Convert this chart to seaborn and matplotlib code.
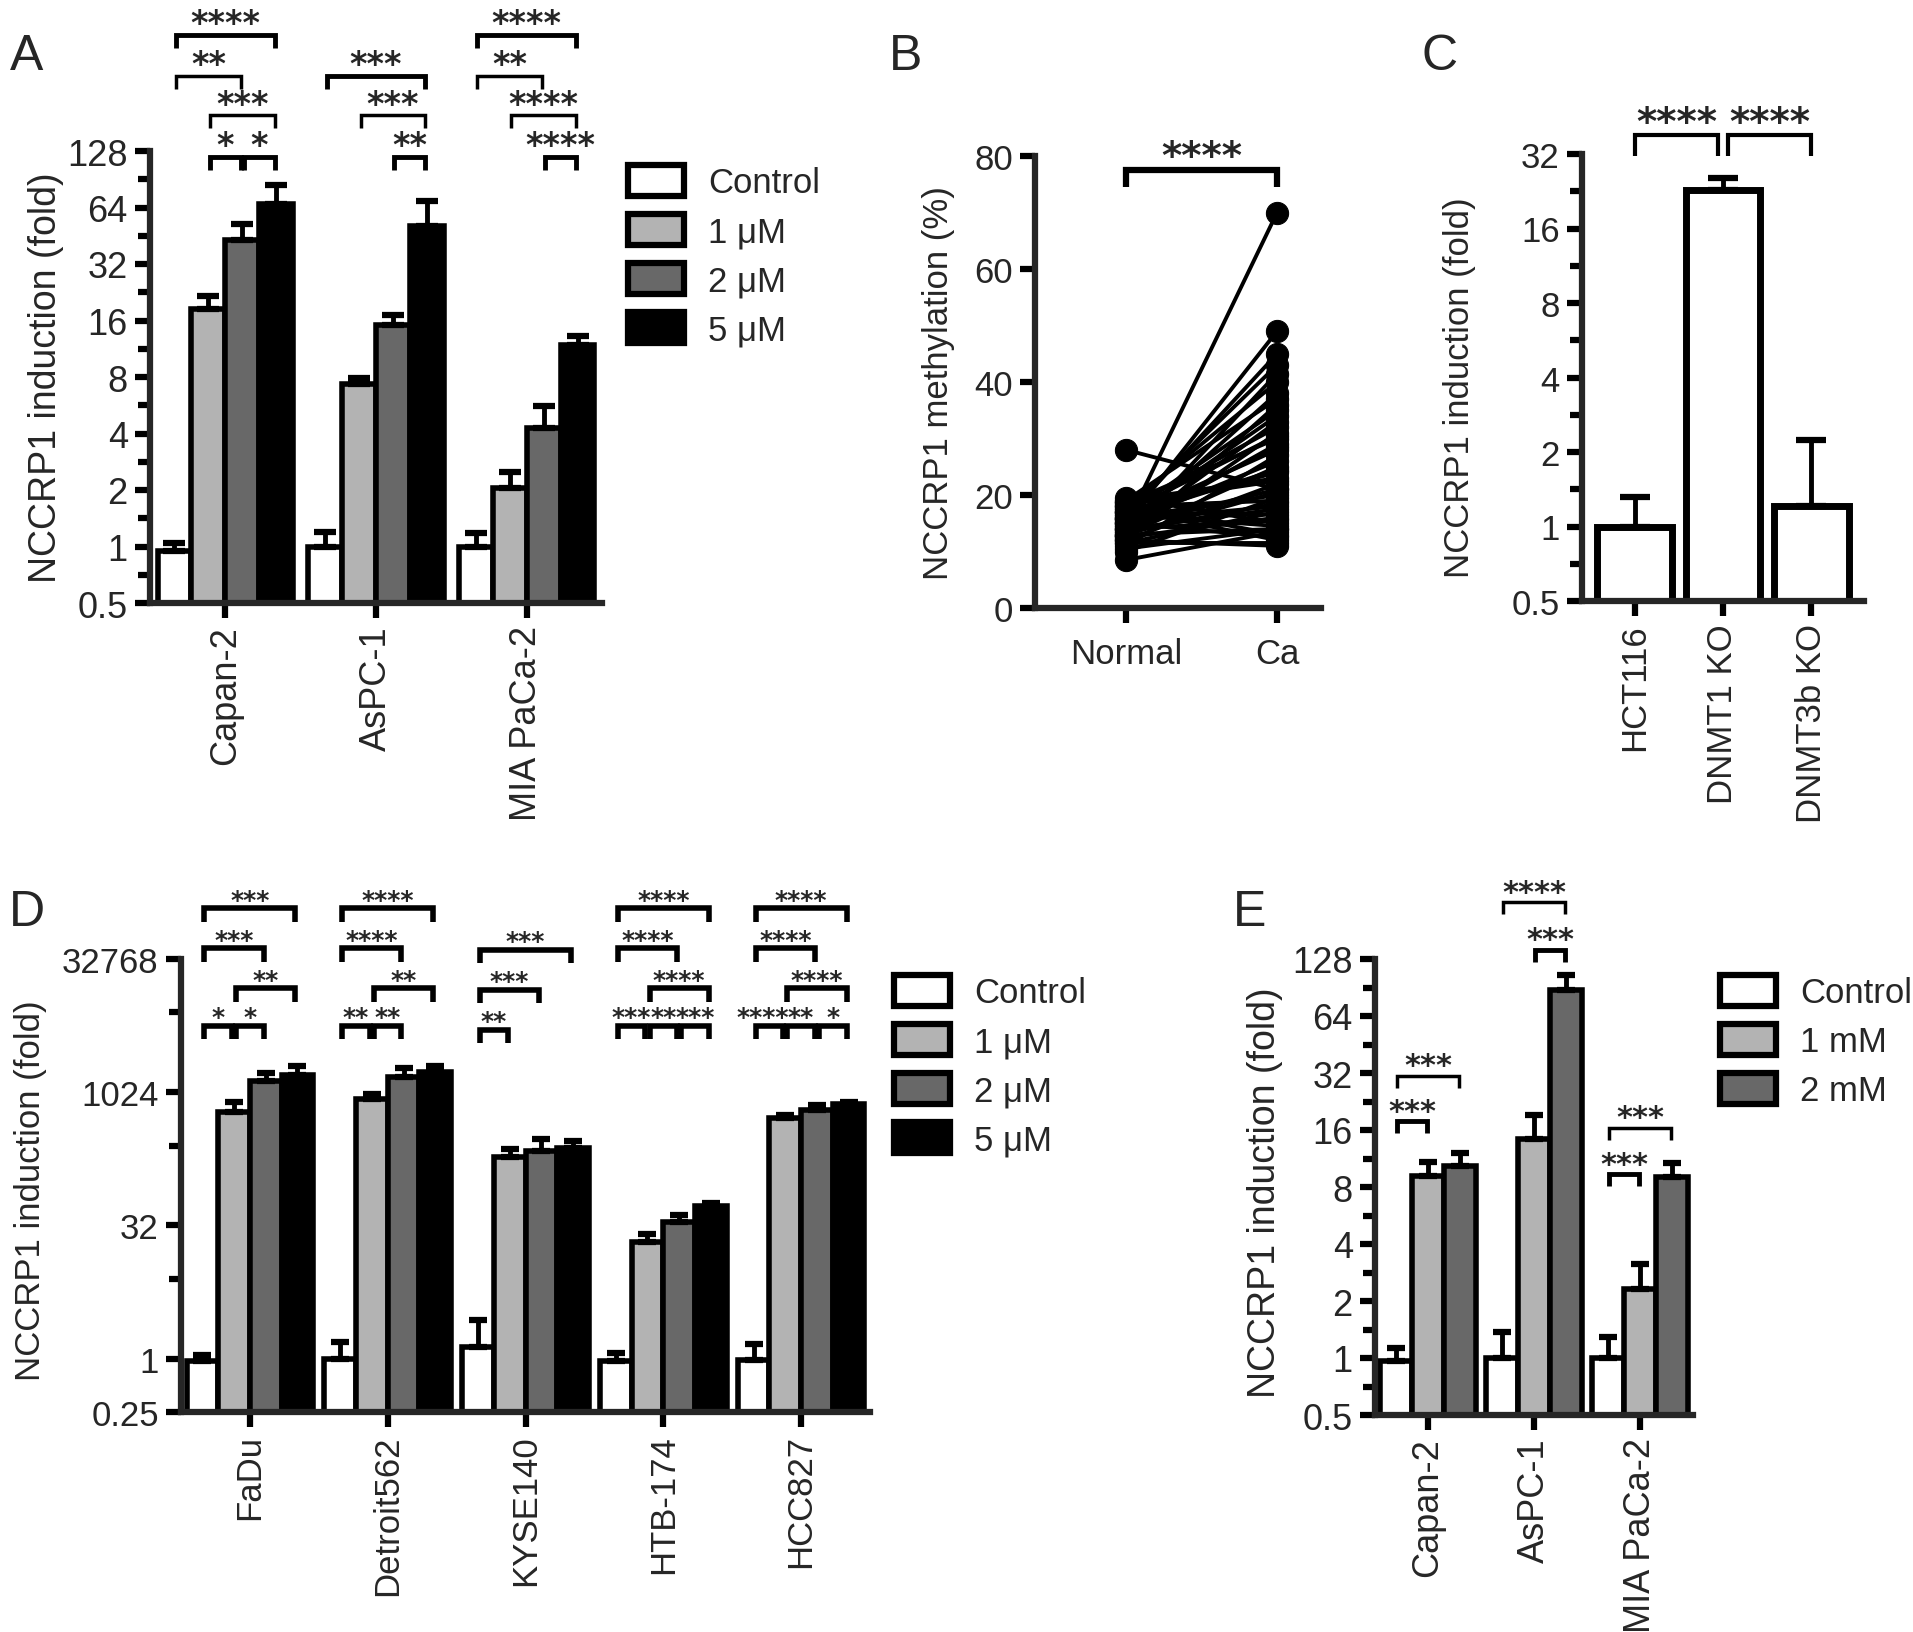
import numpy as np
import pandas as pd
import seaborn as sns
import matplotlib.pyplot as plt
from matplotlib.patches import Patch
from matplotlib.ticker import FixedLocator, FixedFormatter, NullFormatter
from matplotlib import font_manager

# ------------------------------
# Data
# ------------------------------
# A: decitabine dose response in pancreatic lines
a_lines = ['Capan-2', 'AsPC-1', 'MIA PaCa-2']
a_doses = ['Control', '1 \u03bcM', '2 \u03bcM', '5 \u03bcM']
a_mean = [[0.95, 18.5, 43.0, 67.0],
          [1.0, 7.3, 15.2, 51.0],
          [1.0, 2.05, 4.3, 11.8]]
a_upper = [[1.05, 21.7, 52.0, 84.0],
           [1.2, 7.9, 17.2, 69.0],
           [1.18, 2.5, 5.6, 13.2]]
# (group, bar i, bar j, label)
a_sig = [(0, 0, 3, '****'), (0, 0, 2, '**'), (0, 1, 3, '***'), (0, 1, 2, '*'), (0, 2, 3, '*'),
         (1, 0, 3, '***'), (1, 1, 3, '***'), (1, 2, 3, '**'),
         (2, 0, 3, '****'), (2, 0, 2, '**'), (2, 1, 3, '****'), (2, 2, 3, '****')]

# B: paired methylation, normal vs cancer
b_normal = [28, 14.5, 15, 16, 17, 13, 18, 14, 19, 12, 16.5, 15.5, 13.5, 17.5, 12.5, 18.5, 14,
            16, 11, 15, 13, 17, 19, 12, 14.5, 16, 10, 18, 13.5, 15.5, 11.5, 17, 12.5, 14,
            19.5, 16.5, 13, 8.5, 18, 15, 11.5, 17.5, 12, 14, 16, 13, 15, 17, 10.5, 18.5]
b_ca = [21, 70, 49, 45, 43, 41.5, 40, 38, 37, 36, 35, 34, 33, 32, 31, 30, 29,
        28, 27, 26, 25, 24, 23, 22, 21, 20, 19.5, 19, 18.5, 18, 17, 16.5, 16, 15.5,
        15, 14.5, 14, 13.5, 13, 12.5, 11.5, 12, 11, 17.5, 24.5, 20.5, 28.5, 30.5, 14, 22.5]

# C: DNMT knockouts
c_lines = ['HCT116', 'DNMT1 KO', 'DNMT3b KO']
c_mean = [1.0, 22.9, 1.21]
c_upper = [1.31, 25.6, 2.24]

# D: other cancer lines
d_lines = ['FaDu', 'Detroit562', 'KYSE140', 'HTB-174', 'HCC827']
d_doses = ['Control', '1 \u03bcM', '2 \u03bcM', '5 \u03bcM']
d_mean = [[0.93, 613, 1380, 1600],
          [1.0, 860, 1530, 1745],
          [1.37, 191, 223, 240],
          [0.94, 21, 35, 53.5],
          [0.97, 527, 650, 760]]
d_upper = [[1.1, 790, 1675, 2000],
           [1.56, 980, 1940, 2040],
           [2.75, 235, 306, 290],
           [1.16, 25.8, 42, 58],
           [1.47, 570, 740, 800]]
d_sig = [(0, 0, 3, '***'), (0, 0, 2, '***'), (0, 1, 3, '**'), (0, 0, 1, '*'), (0, 1, 2, '*'),
         (1, 0, 3, '****'), (1, 0, 2, '****'), (1, 1, 3, '**'), (1, 0, 1, '**'), (1, 1, 2, '**'),
         (2, 0, 3, '***'), (2, 0, 2, '***'), (2, 0, 1, '**'),
         (3, 0, 3, '****'), (3, 0, 2, '****'), (3, 1, 3, '****'), (3, 0, 1, '***'), (3, 1, 2, '**'), (3, 2, 3, '***'),
         (4, 0, 3, '****'), (4, 0, 2, '****'), (4, 1, 3, '****'), (4, 0, 1, '****'), (4, 1, 2, '**'), (4, 2, 3, '*')]

# E: second drug in pancreatic lines
e_lines = ['Capan-2', 'AsPC-1', 'MIA PaCa-2']
e_doses = ['Control', '1 mM', '2 mM']
e_mean = [[0.96, 9.2, 10.3],
          [1.0, 14.4, 88.0],
          [1.0, 2.32, 9.06]]
e_upper = [[1.13, 10.8, 12.1],
           [1.37, 19.1, 105.0],
           [1.29, 3.13, 10.7]]
e_sig = [(0, 0, 1, '***'), (0, 0, 2, '***'),
         (1, 1, 2, '***'), (1, 0, 2, '****'),
         (2, 0, 1, '***'), (2, 0, 2, '***')]

# ------------------------------
# Style
# ------------------------------
sns.set_theme(style='ticks')
names = {f.name for f in font_manager.fontManager.ttflist}
REG = 'Liberation Sans' if 'Liberation Sans' in names else 'DejaVu Sans'
NARROW = 'Liberation Sans Narrow' if 'Liberation Sans Narrow' in names else REG
plt.rcParams['font.family'] = [REG, 'DejaVu Sans']
plt.rcParams['axes.linewidth'] = 4.5

GRAYS4 = ['#ffffff', '#b3b3b3', '#686868', '#000000']
GRAYS3 = ['#ffffff', '#b3b3b3', '#686868']

W, H = 1913, 1633
fig = plt.figure(figsize=(W / 100, H / 100), dpi=100)


def rect(l, t, r, b):
    return [l / W, 1 - b / H, (r - l) / W, (b - t) / H]


def style_axes(ax, font, size):
    sns.despine(ax=ax)
    ax.set_facecolor('white')
    ax.tick_params(which='major', length=11, width=4.5, labelsize=size, pad=5, color='black')
    ax.tick_params(which='minor', length=9, width=4.5, color='black')
    ax.tick_params(axis='x', which='minor', length=0)
    for lab in ax.get_yticklabels() + ax.get_xticklabels():
        lab.set_family(font)


def log2_axis(ax, lo, hi, major, minor):
    ax.set_yscale('log', base=2, nonpositive='clip')
    ax.set_ylim(lo, hi)
    ax.yaxis.set_major_locator(FixedLocator(major))
    ax.yaxis.set_major_formatter(FixedFormatter([f'{v:g}' for v in major]))
    ax.yaxis.set_minor_locator(FixedLocator(minor))
    ax.yaxis.set_minor_formatter(NullFormatter())


def grouped_bars(ax, groups, hues, means, uppers, colors, width, capsize):
    rows = [(g, h, means[i][j]) for i, g in enumerate(groups) for j, h in enumerate(hues)]
    df = pd.DataFrame(rows, columns=['line', 'dose', 'fold'])
    sns.barplot(data=df, x='line', y='fold', hue='dose', order=groups, hue_order=hues,
                palette=colors, width=width, edgecolor='black', linewidth=4,
                saturation=1, errorbar=None, legend=False, ax=ax)
    centers = []
    for j, cont in enumerate(list(ax.containers)):
        xs = [p.get_x() + p.get_width() / 2 for p in cont.patches]
        centers.append(xs)
        m = np.array([means[i][j] for i in range(len(groups))])
        u = np.array([uppers[i][j] for i in range(len(groups))])
        ax.errorbar(xs, m, yerr=[np.zeros_like(m), u - m], fmt='none', ecolor='black',
                    elinewidth=3.5, capsize=capsize, capthick=4.5, zorder=1)
    return centers


def bracket(ax, x1, x2, y, leg, text, log=True, lw=3.5, fs=24, dx=0):
    yl = y / 2 ** leg if log else y - leg
    ax.plot([x1, x1, x2, x2], [yl, y, y, yl], color='black', lw=lw, clip_on=False,
            solid_joinstyle='miter', solid_capstyle='butt')
    ax.annotate(text, xy=((x1 + x2) / 2, y), xytext=(dx, 1), textcoords='offset points',
                ha='center', va='baseline', fontsize=fs, fontweight='bold',
                family='DejaVu Sans', annotation_clip=False)


def legend(ax, labels, colors, x, y, font):
    handles = [Patch(facecolor=c, edgecolor='black', linewidth=4.5) for c in colors]
    ax.legend(handles, labels, loc='upper left', bbox_to_anchor=(x / W, 1 - y / H),
              bbox_transform=fig.transFigure, frameon=False, handlelength=1.6,
              handleheight=1.0, labelspacing=0.42, handletextpad=0.7, borderpad=0,
              borderaxespad=0, prop={'family': font, 'size': 25})


def panel_letter(x, y, s):
    fig.text(x / W, 1 - y / H, s, fontsize=36, ha='center', va='center')


# ------------------------------
# Panel A
# ------------------------------
axA = fig.add_axes(rect(150, 152, 602, 604))
cA = grouped_bars(axA, a_lines, a_doses, a_mean, a_upper, GRAYS4, 0.9, 8)
log2_axis(axA, 0.5, 128, [2.0 ** k for k in range(-1, 8)], [2.0 ** (k + 0.5) for k in range(-1, 7)])
axA.set_xlim(-0.5, 2.5)
axA.set_xlabel('')
axA.set_ylabel('NCCRP1 induction (fold)', fontsize=27, family=NARROW, va='center')
axA.yaxis.set_label_coords(-0.23, 0.5)
axA.set_xticks(range(3))
axA.set_xticklabels(a_lines, rotation=90, fontsize=26)
style_axes(axA, NARROW, 26)
a_levels = [9.06, 8.33, 7.63, 6.9, 6.9, 8.33, 7.63, 6.9, 9.06, 8.33, 7.63, 6.9]
for (g, i, j, s), e in zip(a_sig, a_levels):
    bracket(axA, cA[i][g] + 0.01, cA[j][g] - 0.01, 2 ** e, 0.23, s, lw=3.5 if j - i != 2 else 2.5)
legend(axA, a_doses, GRAYS4, 628, 166, NARROW)
panel_letter(27, 57, 'A')

# ------------------------------
# Panel B
# ------------------------------
axB = fig.add_axes(rect(1035, 157, 1321, 609))
b_rows = []
for k, (n, c) in enumerate(zip(b_normal, b_ca)):
    b_rows.append((k, 0, n))
    b_rows.append((k, 1, c))
dfB = pd.DataFrame(b_rows, columns=['pair', 'pos', 'meth'])
sns.lineplot(data=dfB, x='pos', y='meth', units='pair', estimator=None, color='black',
             lw=2.8, marker='o', markersize=16, markeredgecolor='black', ax=axB)
axB.set_xlim(-0.6, 1.29)
axB.set_ylim(0, 80)
axB.set_yticks([0, 20, 40, 60, 80])
axB.set_xticks([0, 1])
axB.set_xticklabels(['Normal', 'Ca'])
axB.set_xlabel('')
axB.set_ylabel('NCCRP1 methylation (%)', fontsize=25, va='center')
axB.yaxis.set_label_coords(-0.337, 0.5)
style_axes(axB, REG, 25)
axB.tick_params(axis='x', pad=10)
for ln in axB.lines:
    ln.set_clip_on(False)
bracket(axB, 0, 1, 77.6, 3.1, '****', log=False, lw=4.5, fs=28)
panel_letter(906, 57, 'B')

# ------------------------------
# Panel C
# ------------------------------
axC = fig.add_axes(rect(1582, 155, 1864, 602))
dfC = pd.DataFrame({'line': c_lines, 'fold': c_mean})
sns.barplot(data=dfC, x='line', y='fold', color='white', width=0.85, edgecolor='black',
            linewidth=5, saturation=1, errorbar=None, ax=axC)
xsC = [p.get_x() + p.get_width() / 2 for p in axC.containers[0].patches]
axC.errorbar(xsC, c_mean, yerr=[np.zeros(3), np.array(c_upper) - np.array(c_mean)],
             fmt='none', ecolor='black', elinewidth=3.5, capsize=11, capthick=4.5, zorder=1)
log2_axis(axC, 0.5, 32, [2.0 ** k for k in range(-1, 6)], [2.0 ** (k + 0.5) for k in range(-1, 5)])
axC.set_xlim(-0.6, 2.6)
axC.set_xlabel('')
axC.set_ylabel('NCCRP1 induction (fold)', fontsize=25, family=NARROW, va='center')
axC.yaxis.set_label_coords(-0.433, 0.48)
axC.set_xticks(range(3))
axC.set_xticklabels(c_lines, rotation=90, fontsize=26)
style_axes(axC, REG, 25)
bracket(axC, xsC[0], xsC[1] - 0.06, 2 ** 5.25, 0.28, '****', lw=3, fs=28)
bracket(axC, xsC[1] + 0.06, xsC[2], 2 ** 5.25, 0.28, '****', lw=3, fs=28)
panel_letter(1440, 57, 'C')

# ------------------------------
# Panel D
# ------------------------------
axD = fig.add_axes(rect(181, 960, 870, 1413))
cD = grouped_bars(axD, d_lines, d_doses, d_mean, d_upper, GRAYS4, 0.92, 6.5)
log2_axis(axD, 0.25, 32768, [0.25, 1, 32, 1024, 32768], [8, 256, 8192])
axD.set_xlim(-0.5, 4.5)
axD.set_xlabel('')
axD.set_ylabel('NCCRP1 induction (fold)', fontsize=25, va='center')
axD.yaxis.set_label_coords(-0.218, 0.49)
axD.set_xticks(range(5))
axD.set_xticklabels(d_lines, rotation=90, fontsize=24)
style_axes(axD, REG, 25)
d_levels = {3: 16.9, 2: 15.4, 1: 13.9, 0: 12.5}
for g, i, j, s in d_sig:
    if g == 2:
        lvl = {3: 15.35, 2: 13.85, 1: 12.35}[j]
    elif i == 0 and j == 3:
        lvl = d_levels[3]
    elif i == 0 and j == 2:
        lvl = d_levels[2]
    elif i == 1 and j == 3:
        lvl = d_levels[1]
    else:
        lvl = d_levels[0]
    # the widest label on the lowest row sits a little left, as in the figure
    shift = -5 if (j - i == 1 and len(s) == 4) else 0
    bracket(axD, cD[i][g] + 0.015, cD[j][g] - 0.015, 2 ** lvl, 0.5, s, lw=4, fs=18, dx=shift)
legend(axD, d_doses, GRAYS4, 894, 976, REG)
panel_letter(27, 913, 'D')

# ------------------------------
# Panel E
# ------------------------------
axE = fig.add_axes(rect(1375, 960, 1693, 1416))
cE = grouped_bars(axE, e_lines, e_doses, e_mean, e_upper, GRAYS3, 0.9, 6.5)
log2_axis(axE, 0.5, 128, [2.0 ** k for k in range(-1, 8)], [2.0 ** (k + 0.5) for k in range(-1, 7)])
axE.set_xlim(-0.5, 2.5)
axE.set_xlabel('')
axE.set_ylabel('NCCRP1 induction (fold)', fontsize=27, family=NARROW, va='center')
axE.yaxis.set_label_coords(-0.347, 0.49)
axE.set_xticks(range(3))
axE.set_xticklabels(e_lines, rotation=90, fontsize=25)
style_axes(axE, NARROW, 26)
e_levels = [4.15, 4.95, 7.16, 8.0, 3.22, 4.04]
for (g, i, j, s), e in zip(e_sig, e_levels):
    bracket(axE, cE[i][g] + 0.01, cE[j][g] - 0.01, 2 ** e, 0.21, s, lw=3.5 if j - i == 1 else 2.5, fs=22)
legend(axE, e_doses, GRAYS3, 1720, 976, REG)
panel_letter(1250, 913, 'E')

fig.savefig('out.png', dpi=100, facecolor='white')
